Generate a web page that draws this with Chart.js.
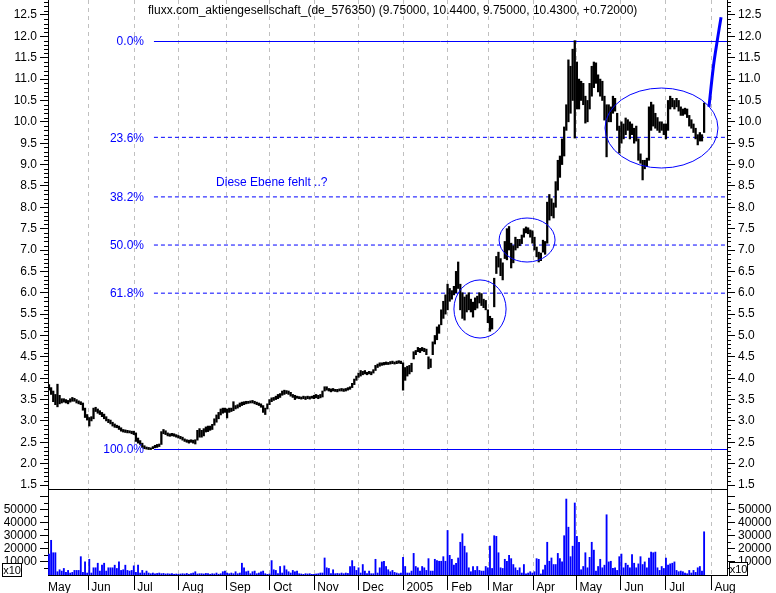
<!DOCTYPE html>
<html><head><meta charset="utf-8">
<script src="https://cdn.jsdelivr.net/npm/chart.js@4/dist/chart.umd.min.js"></script>
<style>
html,body{margin:0;padding:0;background:#fff;}
#wrap{position:relative;width:776px;height:593px;overflow:hidden;background:#fff;}
canvas{position:absolute;left:0;}
#c1{top:0px;}
#c2{top:490px;}
</style></head><body>
<div id="wrap"><canvas id="c1" width="776" height="490"></canvas><canvas id="c2" width="776" height="103"></canvas></div>
<script>
// ---------- data ----------
const chartTitle = "fluxx.com_aktiengesellschaft_(de_576350) (9.75000, 10.4400, 9.75000, 10.4300, +0.72000)";
const monthTickDays = [-0.47, 18.4, 40.1, 61.3, 83.5, 104.2, 125, 146.2, 167, 188.2, 207.5, 228.3, 248.6, 269.8, 291, 312.3];
const monthLabels = ["May", " Jun", " Jul", " Aug", " Sep", " Oct", " Nov", " Dec", " 2005", " Feb", " Mar", " Apr", " May", " Jun", " Jul", " Aug"];
const priceTicks = [1.5,2.0,2.5,3.0,3.5,4.0,4.5,5.0,5.5,6.0,6.5,7.0,7.5,8.0,8.5,9.0,9.5,10.0,10.5,11.0,11.5,12.0,12.5];
const volumeTicks = [10000,20000,30000,40000,50000,60000];
const volumeLabelled = [10000,20000,30000,40000,50000];

const lows = [
3.72,3.62,3.45,3.38,3.33,3.40,3.42,3.44,3.42,3.40,
3.44,3.46,3.46,3.42,3.40,3.38,3.25,3.08,3.02,2.88,
3.00,3.05,3.22,3.18,3.15,3.10,3.05,3.00,2.96,2.93,
2.88,2.85,2.84,2.80,2.76,2.74,2.73,2.72,2.72,2.70,
2.68,2.52,2.48,2.45,2.38,2.35,2.34,2.33,2.33,2.35,
2.37,2.38,2.40,2.45,2.70,2.68,2.65,2.64,2.65,2.64,
2.62,2.60,2.58,2.55,2.52,2.50,2.48,2.50,2.48,2.46,
2.55,2.62,2.62,2.65,2.74,2.75,2.78,2.80,2.90,2.97,
3.05,3.14,3.18,3.20,3.07,3.20,3.22,3.24,3.28,3.30,
3.33,3.36,3.38,3.40,3.41,3.42,3.42,3.40,3.38,3.36,
3.32,3.20,3.15,3.28,3.38,3.45,3.48,3.50,3.52,3.55,
3.60,3.62,3.64,3.62,3.58,3.55,3.50,3.53,3.52,3.51,
3.52,3.50,3.52,3.51,3.53,3.52,3.54,3.52,3.54,3.56,
3.70,3.72,3.70,3.68,3.70,3.69,3.68,3.70,3.70,3.69,
3.70,3.72,3.74,3.78,3.85,3.95,4.02,4.05,4.08,4.10,
4.08,4.10,4.08,4.12,4.18,4.25,4.28,4.30,4.31,4.32,
4.32,4.33,4.34,4.33,4.34,4.35,4.34,3.72,3.95,4.05,
4.10,4.15,4.45,4.55,4.62,4.60,4.64,4.62,4.55,4.22,
4.25,4.55,4.80,4.90,5.05,5.25,5.40,5.50,5.60,5.80,
5.85,5.95,6.00,6.10,5.60,5.40,5.36,5.55,5.60,5.55,
5.43,5.60,5.64,5.76,5.70,5.65,5.60,5.30,5.10,5.15,
5.67,6.45,6.60,6.40,6.30,6.80,6.77,7.00,6.58,6.70,
7.00,7.05,7.10,7.15,7.30,7.40,7.38,7.30,7.16,7.00,
6.84,6.72,6.75,6.95,6.90,7.16,7.70,7.80,7.75,8.00,
8.40,8.70,9.00,9.20,9.80,10.00,10.20,10.50,9.62,10.30,
10.30,10.50,10.40,9.97,10.00,10.30,10.60,10.80,10.90,10.70,
10.60,10.50,10.04,9.18,10.00,10.00,10.20,10.25,9.80,9.27,
9.50,9.60,9.70,9.80,9.60,9.70,9.50,9.55,9.10,9.03,
8.64,8.90,8.95,9.10,9.80,9.90,9.85,9.80,9.75,9.80,
9.70,9.60,9.80,10.30,10.35,10.30,10.35,10.25,10.15,10.15,
10.18,10.10,9.90,9.85,9.75,9.60,9.46,9.55,9.55,9.75
];
const highs = [
3.85,3.78,3.70,3.62,3.86,3.60,3.52,3.52,3.50,3.48,
3.52,3.55,3.53,3.50,3.47,3.45,3.42,3.30,3.15,3.08,
3.10,3.30,3.32,3.28,3.24,3.20,3.16,3.10,3.04,3.02,
2.97,2.93,2.90,2.88,2.84,2.80,2.79,2.78,2.77,2.76,
2.76,2.72,2.60,2.54,2.48,2.42,2.39,2.38,2.37,2.40,
2.43,2.45,2.46,2.75,2.80,2.77,2.72,2.70,2.71,2.70,
2.68,2.66,2.64,2.62,2.58,2.56,2.55,2.56,2.55,2.56,
2.78,2.82,2.78,2.82,2.86,2.88,2.88,2.92,3.05,3.14,
3.20,3.28,3.30,3.30,3.28,3.30,3.30,3.45,3.36,3.38,
3.42,3.44,3.45,3.46,3.46,3.47,3.48,3.46,3.44,3.42,
3.40,3.36,3.30,3.40,3.50,3.54,3.55,3.58,3.62,3.64,
3.70,3.72,3.71,3.70,3.67,3.62,3.60,3.58,3.57,3.56,
3.58,3.57,3.58,3.57,3.58,3.60,3.62,3.60,3.62,3.70,
3.80,3.80,3.76,3.75,3.76,3.74,3.74,3.75,3.76,3.75,
3.76,3.78,3.80,3.88,3.98,4.05,4.12,4.18,4.16,4.18,
4.14,4.16,4.15,4.20,4.30,4.33,4.36,4.36,4.37,4.38,
4.37,4.39,4.40,4.38,4.40,4.41,4.40,4.36,4.25,4.28,
4.30,4.35,4.62,4.65,4.72,4.70,4.72,4.70,4.68,4.50,
4.45,4.85,5.00,5.20,5.25,5.60,5.80,5.95,6.20,6.10,
6.05,6.15,6.50,6.72,6.20,6.00,5.90,5.95,6.00,5.85,
5.78,5.88,5.92,6.00,5.98,5.85,5.82,5.60,5.45,5.40,
6.34,6.85,6.95,6.80,6.70,7.20,7.50,7.55,7.16,7.10,
7.30,7.25,7.25,7.35,7.50,7.54,7.52,7.47,7.45,7.30,
7.07,6.95,6.93,7.23,7.20,8.12,8.30,8.20,8.10,8.60,
9.10,9.20,9.60,9.88,10.40,11.45,11.30,11.70,11.90,11.40,
11.00,10.95,10.90,10.60,10.50,10.90,11.30,11.40,11.38,11.10,
11.00,10.95,10.60,10.40,10.40,10.35,10.60,10.55,10.20,9.90,
10.00,9.95,10.09,10.05,10.00,9.95,9.85,9.90,9.60,9.25,
9.10,9.10,9.15,10.35,10.46,10.40,10.20,10.10,10.00,10.00,
9.95,9.95,10.50,10.60,10.55,10.50,10.55,10.50,10.35,10.30,
10.32,10.30,10.15,10.05,9.95,9.85,9.70,9.75,9.70,10.44
];
const volumes = [
16000,26500,17000,17000,2500,4000,3000,5000,2000,3500,
1500,2000,3500,3500,3500,14000,2000,10000,1500,12000,
1500,5500,5500,9000,3000,7500,9000,3000,5500,5500,
5500,7500,5000,10000,3500,4000,7500,3500,3000,3500,
7000,2000,7500,1500,3500,1500,3000,1500,1000,1500,
800,1200,1500,1000,1200,800,1000,800,1000,600,
800,600,800,1000,800,1200,600,1000,1500,2500,
800,1000,1000,800,1200,1000,600,1000,800,1500,
600,1000,2500,3000,1500,1000,1500,1000,2500,1000,
1500,9000,5500,2500,3000,1000,2500,3000,1000,1500,
2500,3000,1000,500,800,11000,4000,3500,1000,6500,
1500,7000,4000,2500,1500,3500,2500,3000,1000,800,
500,1000,800,1000,500,500,800,1000,1500,1500,
13000,5500,5000,1000,4000,1000,1200,1000,1500,1000,
1500,1200,6500,11000,6500,3500,5500,1500,8000,3000,
1000,3000,1000,1000,12000,1500,5500,10000,10500,6500,
4000,2500,3500,2000,1500,1000,1500,13500,6500,1500,
1500,3000,16500,6500,5500,3000,6500,5500,3500,12500,
3000,3000,12000,11000,10500,10500,14000,10500,34000,15000,
12000,7500,9000,13000,25000,31500,22000,17000,5500,2500,
6500,3500,6500,3500,3000,3000,6500,5500,22000,5000,
30000,29500,17000,5500,5000,12000,10500,15000,12500,8000,
5500,3500,5500,1500,8000,800,1500,2500,1500,2500,
12500,12000,800,4000,7500,25000,10500,13000,8000,8000,
16500,12500,10000,30000,58000,36500,14000,22000,55000,29500,
25000,4000,6500,17000,5500,13500,25000,19000,3000,6500,
12000,5500,7500,46000,10000,10500,5000,5500,3500,14000,
16000,5500,9000,7500,5500,15500,9000,5500,8500,14000,
8000,10000,5500,13000,17500,17000,17500,5500,3500,6500,
5000,13000,7500,8500,9000,10000,3500,2500,3000,2500,
1500,1000,3500,1500,3500,2000,5500,6500,3000,33000
];

// Fibonacci retracement (from the swing low to the swing high)
const fibHigh = 11.89;
const fibLow = 2.343;
const fibRatios = [0, 23.6, 38.2, 50, 61.8, 100];
const fibStartDay = 49.5;
const fibLabelDay = 44.8;

// hand-drawn annotations
const ellipseDays = [203.3, 225.5, 288.9];
const ellipsePrices = [5.62, 7.234, 9.855];
const ellipseDayRadii = [12.3, 13.2, 26.65];
const ellipsePriceRadii = [0.68, 0.515, 0.936];
const trendDays = [311.3, 313.4, 315.2, 317.0];
const trendPrices = [10.35, 11.30, 11.90, 12.45];
const noteText = "Diese Ebene fehlt ..?";
const noteDay = 78.8;
const notePrice = 8.568;

// ---------- layout ----------
const dayMin = -0.47, dayMax = 319.8;
const priceMin = 1.407, priceMax = 12.851;
const volMax = 64900;
const FONT = "'Liberation Sans', Arial, sans-serif";
const BLUE = '#0000ff';
const GRID = '#c0c0c0';

Chart.defaults.font.family = FONT;
Chart.defaults.font.size = 12;
Chart.defaults.color = '#000';

function minorTicks(chart, axisId, from, to, step, majors, len, side) {
  const s = chart.scales[axisId];
  const ctx = chart.ctx;
  ctx.save();
  ctx.strokeStyle = '#000';
  ctx.lineWidth = 1;
  ctx.beginPath();
  const n = Math.round((to - from) / step);
  for (let i = 0; i <= n; i++) {
    const v = from + i * step;
    if (majors.some(m => Math.abs(m - v) < step / 10)) continue;
    if (v < s.min || v > s.max) continue;
    const py = Math.round(s.getPixelForValue(v)) + 0.5;
    const x0 = side === 'left' ? s.right : s.left;
    const x1 = side === 'left' ? x0 - len : x0 + len;
    ctx.moveTo(x0, py); ctx.lineTo(x1, py);
  }
  ctx.stroke();
  ctx.restore();
}

const fibLevels = fibRatios.map(r => fibHigh - (fibHigh - fibLow) * r / 100);
const isSolidFib = r => r === 0 || r === 100;

const priceDecor = {
  id: 'priceDecor',
  beforeDatasetsDraw(chart) {
    // solid 0% / 100% levels, pixel-aligned
    const {ctx, scales: {x, y}, chartArea} = chart;
    ctx.save();
    ctx.strokeStyle = BLUE;
    ctx.lineWidth = 1;
    ctx.setLineDash([]);
    fibRatios.forEach((r, i) => {
      if (!isSolidFib(r)) return;
      const py = Math.round(y.getPixelForValue(fibLevels[i])) + 0.5;
      ctx.beginPath();
      ctx.moveTo(x.getPixelForValue(fibStartDay), py);
      ctx.lineTo(chartArea.right, py);
      ctx.stroke();
    });
    ctx.restore();
  },
  afterDatasetsDraw(chart) {
    const {ctx, scales: {x, y}} = chart;
    ctx.save();
    ctx.font = '12px ' + FONT;
    ctx.textAlign = 'right';
    ctx.textBaseline = 'middle';
    ctx.fillStyle = BLUE;
    const xl = x.getPixelForValue(fibLabelDay);
    fibRatios.forEach((r, i) => {
      ctx.fillText(r.toFixed(1) + '%', xl, y.getPixelForValue(fibLevels[i]) + 1);
    });
    ctx.strokeStyle = BLUE;
    ctx.lineWidth = 1;
    ctx.setLineDash([]);
    ellipseDays.forEach((d, i) => {
      const cx = x.getPixelForValue(d), cy = y.getPixelForValue(ellipsePrices[i]);
      const rx = Math.abs(x.getPixelForValue(d + ellipseDayRadii[i]) - cx);
      const ry = Math.abs(y.getPixelForValue(ellipsePrices[i] + ellipsePriceRadii[i]) - cy);
      ctx.beginPath(); ctx.ellipse(cx, cy, rx, ry, 0, 0, Math.PI * 2); ctx.stroke();
    });
    ctx.textAlign = 'left';
    ctx.fillText(noteText, x.getPixelForValue(noteDay), y.getPixelForValue(notePrice));
    ctx.fillStyle = '#000';
    ctx.fillText(chartTitle, 148, 11);
    ctx.restore();
  },
  afterDraw(chart) {
    minorTicks(chart, 'y', 1.5, 12.8, 0.1, priceTicks, 4, 'left');
    minorTicks(chart, 'y2', 1.5, 12.8, 0.1, priceTicks, 4, 'right');
  }
};

const volDecor = {
  id: 'volDecor',
  afterDraw(chart) {
    minorTicks(chart, 'y', 5000, 60000, 5000, volumeTicks, 4, 'left');
    minorTicks(chart, 'y2', 5000, 60000, 5000, volumeTicks, 4, 'right');
    const ctx = chart.ctx;
    ctx.save();
    ctx.font = '11px ' + FONT;
    ctx.textAlign = 'center';
    ctx.textBaseline = 'middle';
    [[2, 73, 19, 13], [729, 72, 18, 13]].forEach(b => {
      ctx.fillStyle = '#fff';
      ctx.fillRect(b[0], b[1], b[2], b[3]);
      ctx.strokeStyle = '#000';
      ctx.lineWidth = 1;
      ctx.strokeRect(b[0] + 0.5, b[1] + 0.5, b[2], b[3]);
      ctx.fillStyle = '#000';
      ctx.fillText('x10', b[0] + b[2] / 2 + 0.5, b[1] + b[3] / 2 + 1);
    });
    ctx.restore();
  }
};

function yAxis(pos, min, max, ticks, labelFn) {
  return {
    type: 'linear', position: pos, min: min, max: max,
    afterFit: s => { s.width = pos === 'left' ? 48 : 49; s.paddingTop = 0; s.paddingBottom = 0; },
    afterBuildTicks: s => { s.ticks = ticks.map(v => ({value: v})); },
    ticks: {autoSkip: false, padding: 3, color: '#000', font: {size: 12}, callback: labelFn},
    grid: {drawOnChartArea: false, tickLength: 8, tickColor: '#000', color: '#000'},
    border: {color: '#000', width: 1}
  };
}

const fibDashedDatasets = fibLevels
  .map((lvl, i) => ({lvl, r: fibRatios[i]}))
  .filter(o => !isSolidFib(o.r))
  .map(o => ({
    type: 'line',
    data: [{x: fibStartDay, y: o.lvl}, {x: dayMax, y: o.lvl}],
    borderColor: BLUE, borderWidth: 1, pointRadius: 0, fill: false,
    borderDash: [4, 3]
  }));

// ---------- price chart ----------
new Chart(document.getElementById('c1'), {
  type: 'bar',
  data: {
    datasets: [
      {
        type: 'bar',
        data: lows.map((l, i) => ({x: i, y: [l, highs[i]]})),
        backgroundColor: '#000', borderWidth: 0, barThickness: 1.6, grouped: false
      },
      {
        type: 'line',
        data: trendDays.map((d, i) => ({x: d, y: trendPrices[i]})),
        borderColor: BLUE, borderWidth: 3, pointRadius: 0, tension: 0.35, fill: false
      }
    ].concat(fibDashedDatasets)
  },
  options: {
    responsive: false, animation: false,
    layout: {padding: 0, autoPadding: false},
    plugins: {legend: {display: false}, tooltip: {enabled: false}},
    scales: {
      x: {
        type: 'linear', min: dayMin, max: dayMax, offset: false,
        afterFit: s => { s.height = 1; s.paddingLeft = 0; s.paddingRight = 0; },
        afterBuildTicks: s => { s.ticks = monthTickDays.slice(1).map(v => ({value: v})); },
        ticks: {display: false},
        grid: {offset: false, drawTicks: false, color: GRID, lineWidth: 1},
        border: {color: '#000', width: 1, dash: [4, 4]}
      },
      y: yAxis('left', priceMin, priceMax, priceTicks, v => v.toFixed(1)),
      y2: yAxis('right', priceMin, priceMax, priceTicks, v => v.toFixed(1))
    }
  },
  plugins: [priceDecor]
});

// ---------- volume chart ----------
const volLabel = v => volumeLabelled.includes(v) ? String(v) : '';
new Chart(document.getElementById('c2'), {
  type: 'bar',
  data: {
    datasets: [{
      data: volumes.map((v, i) => ({x: i, y: v})),
      backgroundColor: BLUE, borderWidth: 0, barThickness: 1.2, grouped: false
    }]
  },
  options: {
    responsive: false, animation: false,
    layout: {padding: 0, autoPadding: false},
    plugins: {legend: {display: false}, tooltip: {enabled: false}},
    scales: {
      x: {
        type: 'linear', min: dayMin, max: dayMax, offset: false,
        afterFit: s => { s.height = 18; s.paddingLeft = 0; s.paddingRight = 0; },
        afterBuildTicks: s => { s.ticks = monthTickDays.map(v => ({value: v})); },
        ticks: {autoSkip: false, maxRotation: 0, minRotation: 0, align: 'start', padding: -10,
                color: '#000', font: {size: 12}, callback: (v, i) => monthLabels[i]},
        grid: {offset: false, lineWidth: 1, tickLength: 15, tickBorderDash: [],
               color: c => c.index === 0 ? 'rgba(0,0,0,0)' : GRID,
               tickColor: c => c.index === 0 ? 'rgba(0,0,0,0)' : '#000'},
        border: {color: '#000', width: 1, dash: [4, 4]}
      },
      y: yAxis('left', 0, volMax, volumeTicks, volLabel),
      y2: yAxis('right', 0, volMax, volumeTicks, volLabel)
    }
  },
  plugins: [volDecor]
});
</script>
</body></html>
